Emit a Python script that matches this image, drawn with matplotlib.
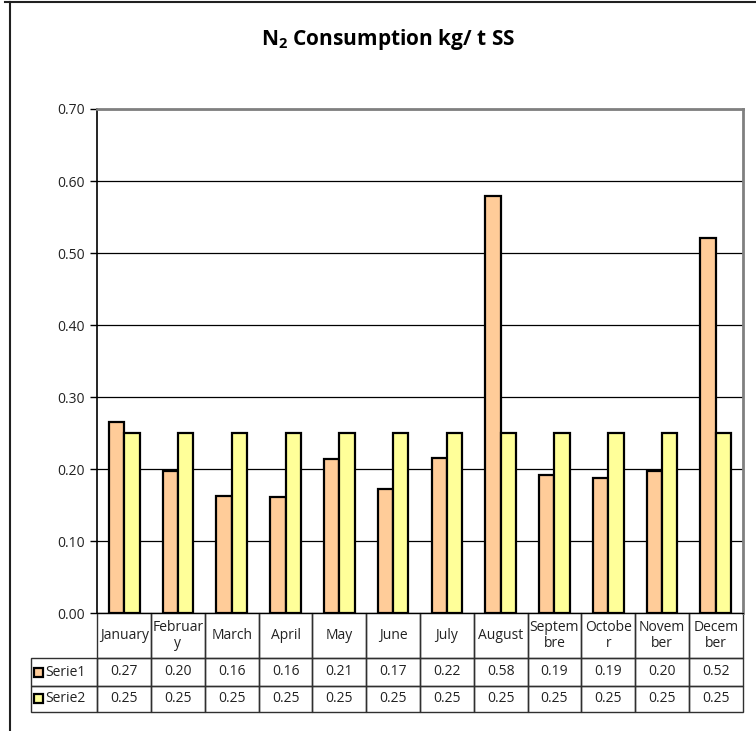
import numpy as np
import matplotlib
matplotlib.use("Agg")
import matplotlib.pyplot as plt
from matplotlib.patches import Rectangle
from matplotlib.lines import Line2D

plt.rcParams["font.family"] = ["Open Sans", "DejaVu Sans"]
plt.rcParams["mathtext.fontset"] = "custom"
plt.rcParams["mathtext.rm"] = "Open Sans"
plt.rcParams["mathtext.bf"] = "Open Sans:bold"
plt.rcParams["mathtext.default"] = "bf"

months = ["January", "Februar\ny", "March", "April", "May", "June", "July",
          "August", "Septem\nbre", "Octobe\nr", "Novem\nber", "Decem\nber"]
serie1 = [0.266, 0.198, 0.163, 0.161, 0.214, 0.172, 0.216, 0.579, 0.192, 0.188, 0.197, 0.521]
serie2 = [0.25] * 12
series_names = ["Serie1", "Serie2"]
colors = ["#FFCC99", "#FFFF99"]
yticks = [0.0, 0.1, 0.2, 0.3, 0.4, 0.5, 0.6, 0.7]

W, H = 756, 731
fig = plt.figure(figsize=(W / 100, H / 100), dpi=100)

# plot area box in pixels
L, R, T, B = 97.3, 742.7, 109.0, 613.3
ax = fig.add_axes([L / W, 1 - B / H, (R - L) / W, (B - T) / H])
aw, ah = R - L, B - T

x = np.arange(len(months))
bw = 0.285
ax.bar(x - bw / 2, serie1, bw, color=colors[0], edgecolor="black", linewidth=1.6, zorder=3)
ax.bar(x + bw / 2, serie2, bw, color=colors[1], edgecolor="black", linewidth=1.6, zorder=3)

ax.set_xlim(-0.5, len(months) - 0.5)
ax.set_ylim(0, 0.7)
ax.set_yticks(yticks)
ax.set_yticklabels([f"{v:.2f}" for v in yticks], fontsize=10, color="#222222")
ax.set_xticks([])
ax.tick_params(axis="y", length=5, width=1, pad=4, color="black")
ax.yaxis.grid(True, color="black", linewidth=0.9)
ax.set_axisbelow(True)
for s in ["top", "right"]:
    ax.spines[s].set_color("#808080")
    ax.spines[s].set_linewidth(2)
ax.spines["left"].set_color("black")
ax.spines["left"].set_linewidth(1.2)
ax.spines["bottom"].set_color("black")

# data table under the plot, in axes fractions
head_h, row_h1, row_h2 = 45.0, 27.4, 26.0
lab_w = (L - 30.7) / aw
cw = 1 / len(months)
y_head = -head_h / ah
y_r1 = y_head - row_h1 / ah
y_r2 = y_r1 - row_h2 / ah
edge = "#303030"
txt = "#222222"


def cell(x0, y0, w, h):
    ax.add_patch(Rectangle((x0, y0), w, h, transform=ax.transAxes, clip_on=False,
                           fill=False, edgecolor=edge, linewidth=1.0))


for j, m in enumerate(months):
    cell(j * cw, y_head, cw, -y_head)
    ax.text((j + 0.5) * cw, y_head / 2, m, transform=ax.transAxes, ha="center",
            va="center", fontsize=10, color=txt, linespacing=1.1)

rows = [(serie1, y_r1, y_head), (serie2, y_r2, y_r1)]
for (vals, yb, yt), name, c in zip(rows, series_names, colors):
    ym = (yb + yt) / 2
    cell(-lab_w, yb, lab_w, yt - yb)
    for j, v in enumerate(vals):
        cell(j * cw, yb, cw, yt - yb)
        ax.text((j + 0.5) * cw, ym, f"{v:.2f}", transform=ax.transAxes, ha="center",
                va="center", fontsize=10, color=txt)
    # legend key
    k = 9
    ym_px = B - ym * ah
    fig.add_artist(Rectangle((33.5 / W, 1 - (ym_px + k / 2) / H), k / W, k / H,
                             transform=fig.transFigure, facecolor=c,
                             edgecolor="black", linewidth=1.6))
    fig.text(45 / W, 1 - ym_px / H, name, ha="left", va="center", fontsize=10, color=txt)

# chart frame
fig.add_artist(Line2D([5 / W, 1], [1 - 2 / H, 1 - 2 / H], color="#202020", linewidth=1.5))
fig.add_artist(Line2D([9.5 / W, 9.5 / W], [0, 1 - 2 / H], color="#202020", linewidth=1.5))

fig.text(388 / W, 1 - 40 / H, r"N$_{2}$ Consumption kg/ t SS", ha="center", va="center",
         fontsize=15, fontweight="bold", color="black")

fig.savefig("out.png", dpi=100)
